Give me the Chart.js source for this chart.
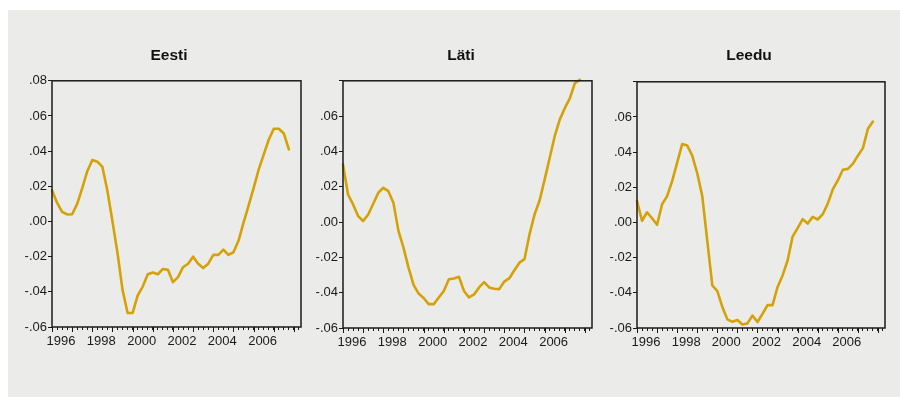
<!DOCTYPE html>
<html>
<head>
<meta charset="utf-8">
<script src="https://cdn.jsdelivr.net/npm/chart.js@4/dist/chart.umd.min.js"></script>
<style>
  html, body { margin: 0; padding: 0; background: #ffffff; }
  body { width: 900px; height: 397px; position: relative; overflow: hidden; }
  #panel { position: absolute; left: 8px; top: 10px; width: 892px; height: 387px; background: #ebecea; }
  canvas { position: absolute; }
</style>
</head>
<body>
<div id="panel"></div>
<canvas id="c1" width="298" height="327" style="left:20px;top:30px;width:298px;height:327px"></canvas>
<canvas id="c2" width="300" height="328" style="left:311px;top:30px;width:300px;height:328px"></canvas>
<canvas id="c3" width="288" height="328" style="left:605px;top:30px;width:288px;height:328px"></canvas>
<script>
// Quarterly observations, 1996Q1 .. 2007Q4
const startYear = 1996;
const quarterCount = 48;
const periods = [];
for (let i = 0; i < quarterCount; i++) periods.push(startYear + i / 4);

// Axis ticks
const axisQuarters = [];
for (let i = 0; i <= 49; i++) axisQuarters.push(startYear + i / 4);
const yearTicks = [1996, 1997, 1998, 1999, 2000, 2001, 2002, 2003, 2004, 2005, 2006, 2007, 2008];
const yearLabels = [1996, 1998, 2000, 2002, 2004, 2006];
const yTickValues = [-0.06, -0.04, -0.02, 0.00, 0.02, 0.04, 0.06, 0.08];

// Series
const eesti = [
  0.0177, 0.0107, 0.0055, 0.0040, 0.0041, 0.0100, 0.0190, 0.0286,
  0.0350, 0.0340, 0.0310, 0.0173, 0.0000, -0.0180, -0.0390, -0.0520,
  -0.0520, -0.0420, -0.0370, -0.0300, -0.0290, -0.0300, -0.0270, -0.0275,
  -0.0345, -0.0316, -0.0260, -0.0240, -0.0200, -0.0240, -0.0265, -0.0240,
  -0.0190, -0.0190, -0.0160, -0.0190, -0.0175, -0.0110, -0.0006, 0.0090,
  0.0190, 0.0295, 0.0380, 0.0465, 0.0527, 0.0527, 0.0500, 0.0410
];
const lati = [
  0.0326, 0.0156, 0.0100, 0.0034, 0.0006, 0.0043, 0.0104, 0.0166,
  0.0194, 0.0175, 0.0109, -0.0050, -0.0145, -0.0258, -0.0356, -0.0405,
  -0.0430, -0.0465, -0.0465, -0.0427, -0.0390, -0.0324, -0.0320, -0.0310,
  -0.0390, -0.0427, -0.0410, -0.0370, -0.0340, -0.0370, -0.0378, -0.0380,
  -0.0337, -0.0318, -0.0273, -0.0230, -0.0210, -0.0070, 0.0043, 0.0122,
  0.0240, 0.0363, 0.0486, 0.0580, 0.0645, 0.0700, 0.0787, 0.0805
];
const leedu = [
  0.0122, 0.0010, 0.0058, 0.0024, -0.0013, 0.0104, 0.0150, 0.0235,
  0.0340, 0.0446, 0.0438, 0.0380, 0.0280, 0.0150, -0.0104, -0.0358,
  -0.0390, -0.0480, -0.0551, -0.0565, -0.0555, -0.0580, -0.0574, -0.0529,
  -0.0566, -0.0520, -0.0470, -0.0470, -0.0367, -0.0301, -0.0216, -0.0080,
  -0.0032, 0.0019, -0.0006, 0.0032, 0.0017, 0.0047, 0.0107, 0.0188,
  0.0239, 0.0300, 0.0305, 0.0333, 0.0380, 0.0423, 0.0533, 0.0574
];

const lineColor = '#d4a106';
const inkColor = '#1a1a1a';
const fontFamily = '"Liberation Sans", Arial, Helvetica, sans-serif';

// Box around the plot area plus the longer yearly tick marks
const framePlugin = {
  id: 'frame',
  afterDraw(chart) {
    const { ctx, chartArea: a, scales } = chart;
    ctx.save();
    ctx.strokeStyle = inkColor;
    ctx.lineWidth = 1;
    ctx.beginPath();
    yearTicks.forEach(function (yr) {
      const px = Math.round(scales.x.getPixelForValue(yr)) + 0.5;
      ctx.moveTo(px, a.bottom);
      ctx.lineTo(px, a.bottom + 5);
    });
    ctx.stroke();
    ctx.lineWidth = 1.5;
    ctx.strokeRect(a.left, a.top, a.right - a.left, a.bottom - a.top);
    ctx.restore();
  }
};

function formatY(v) {
  const s = v.toFixed(2);
  return s.replace('0.', '.');
}

function makeChart(id, title, values, opts) {
  return new Chart(document.getElementById(id), {
    type: 'line',
    data: {
      datasets: [{
        data: periods.map(function (p, i) { return { x: p, y: values[i] }; }),
        borderColor: lineColor,
        borderWidth: 2.6,
        pointRadius: 0,
        tension: 0,
        borderJoinStyle: 'round',
        borderCapStyle: 'round',
        clip: 3
      }]
    },
    options: {
      responsive: false,
      animation: false,
      events: [],
      layout: { padding: 0 },
      plugins: {
        legend: { display: false },
        tooltip: { enabled: false },
        title: {
          display: true,
          text: title,
          color: '#111',
          font: { family: fontFamily, size: 15.5, weight: 'bold' },
          padding: { top: 16, bottom: opts.titleBottom }
        }
      },
      scales: {
        x: {
          type: 'linear',
          min: 1996,
          max: 2008.35,
          afterBuildTicks: function (scale) {
            scale.ticks = axisQuarters.map(function (v) { return { value: v }; });
          },
          afterFit: function (scale) {
            scale.height = 30;
            scale.paddingLeft = 0;
            scale.paddingRight = 0;
          },
          border: { display: false },
          grid: { drawOnChartArea: false, drawTicks: true, tickLength: 3, color: inkColor, tickColor: inkColor, lineWidth: 1 },
          ticks: {
            autoSkip: false,
            maxRotation: 0,
            minRotation: 0,
            labelOffset: 9,
            padding: 4,
            color: '#1a1a1a',
            font: { family: fontFamily, size: 13 },
            callback: function (v) { return yearLabels.indexOf(v) >= 0 ? String(v) : ''; }
          }
        },
        y: {
          position: 'left',
          min: -0.06,
          max: 0.08,
          afterBuildTicks: function (scale) {
            scale.ticks = yTickValues.map(function (v) { return { value: v }; });
          },
          afterFit: function (scale) {
            scale.width = 32;
            scale.paddingTop = 0;
            scale.paddingBottom = 0;
          },
          border: { display: false },
          grid: { drawOnChartArea: false, drawTicks: true, tickLength: 4, color: inkColor, tickColor: inkColor, lineWidth: 1 },
          ticks: {
            padding: 1,
            color: '#1a1a1a',
            font: { family: fontFamily, size: 13 },
            callback: function (v) {
              if (!opts.topLabel && Math.abs(v - 0.08) < 1e-9) return '';
              return formatY(v);
            }
          }
        },
        // empty spacer on the right so the title centres over the whole panel
        yr: {
          type: 'linear',
          axis: 'y',
          position: 'right',
          min: -0.06,
          max: 0.08,
          afterFit: function (scale) {
            scale.width = opts.rW;
            scale.paddingTop = 0;
            scale.paddingBottom = 0;
          },
          border: { display: false },
          grid: { display: false },
          ticks: { display: false }
        }
      }
    },
    plugins: [framePlugin]
  });
}

makeChart('c1', 'Eesti', eesti, { rW: 17, titleBottom: 16.2, topLabel: true });
makeChart('c2', 'Läti', lati, { rW: 19, titleBottom: 16.2, topLabel: false });
makeChart('c3', 'Leedu', leedu, { rW: 8, titleBottom: 17.2, topLabel: false });
</script>
</body>
</html>
